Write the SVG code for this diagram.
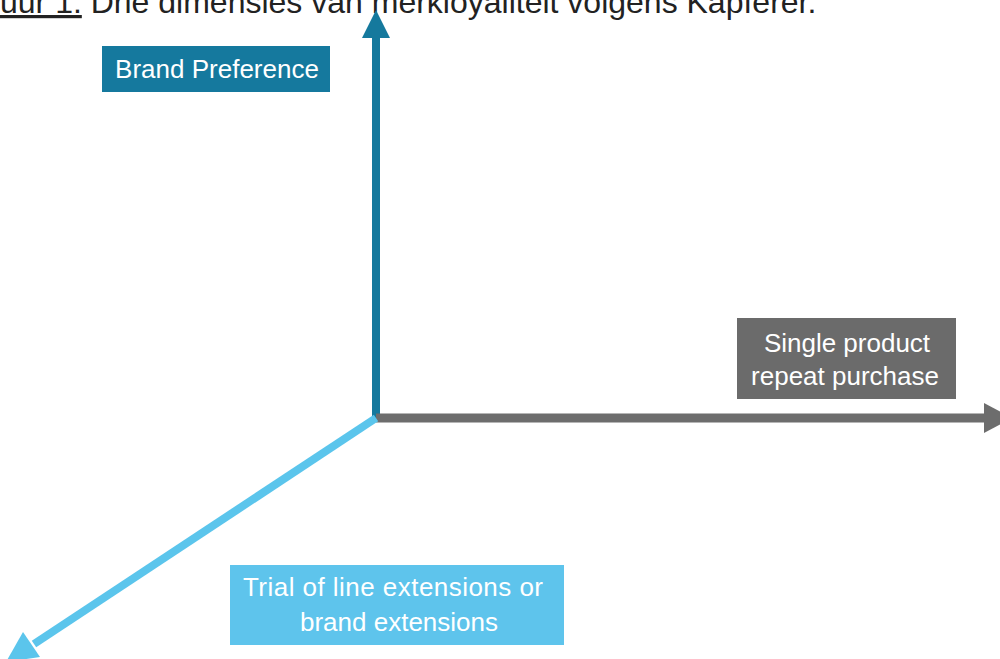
<svg xmlns="http://www.w3.org/2000/svg" width="1000" height="659" viewBox="0 0 1000 659">
<style>
.t{font-family:"Liberation Sans",Arial,sans-serif;fill:#fff;font-size:26px}
.title{font-family:"Liberation Sans",Arial,sans-serif;fill:#222;font-size:32px}
</style>
<rect width="1000" height="659" fill="#fff"/>
<g id="title">
<text class="title" x="0" y="13"><tspan text-decoration="underline">uur 1.</tspan> Drie dimensies van merkloyaliteit volgens Kapferer.</text>
</g>
<g id="connectors">
<line x1="376" y1="418" x2="376" y2="34" stroke="#15799D" stroke-width="8"/>
<polygon points="376,10 362,38 390,38" fill="#15799D"/>
<line x1="376" y1="418" x2="988" y2="418" stroke="#6D6D6D" stroke-width="9"/>
<polygon points="1012,418 984,403 984,433" fill="#6D6D6D"/>
<line x1="376" y1="418" x2="34" y2="644" stroke="#5BC5EC" stroke-width="8"/>
<polygon points="6,662 23,632 40,657" fill="#5BC5EC"/>
</g>
<g id="brand-preference">
<rect x="102" y="46" width="228" height="46" fill="#15799E"/>
<text class="t" x="217" y="78" text-anchor="middle">Brand Preference</text>
</g>
<g id="single-product">
<rect x="737" y="318" width="219" height="81" fill="#6B6B6B"/>
<text class="t" x="847" y="352" text-anchor="middle">Single product</text>
<text class="t" x="845" y="385" text-anchor="middle">repeat purchase</text>
</g>
<g id="trial">
<rect x="230" y="565" width="334" height="80" fill="#5EC4EC"/>
<text class="t" x="393" y="596" text-anchor="middle" textLength="300">Trial of line extensions or</text>
<text class="t" x="399" y="631" text-anchor="middle">brand extensions</text>
</g>
</svg>
